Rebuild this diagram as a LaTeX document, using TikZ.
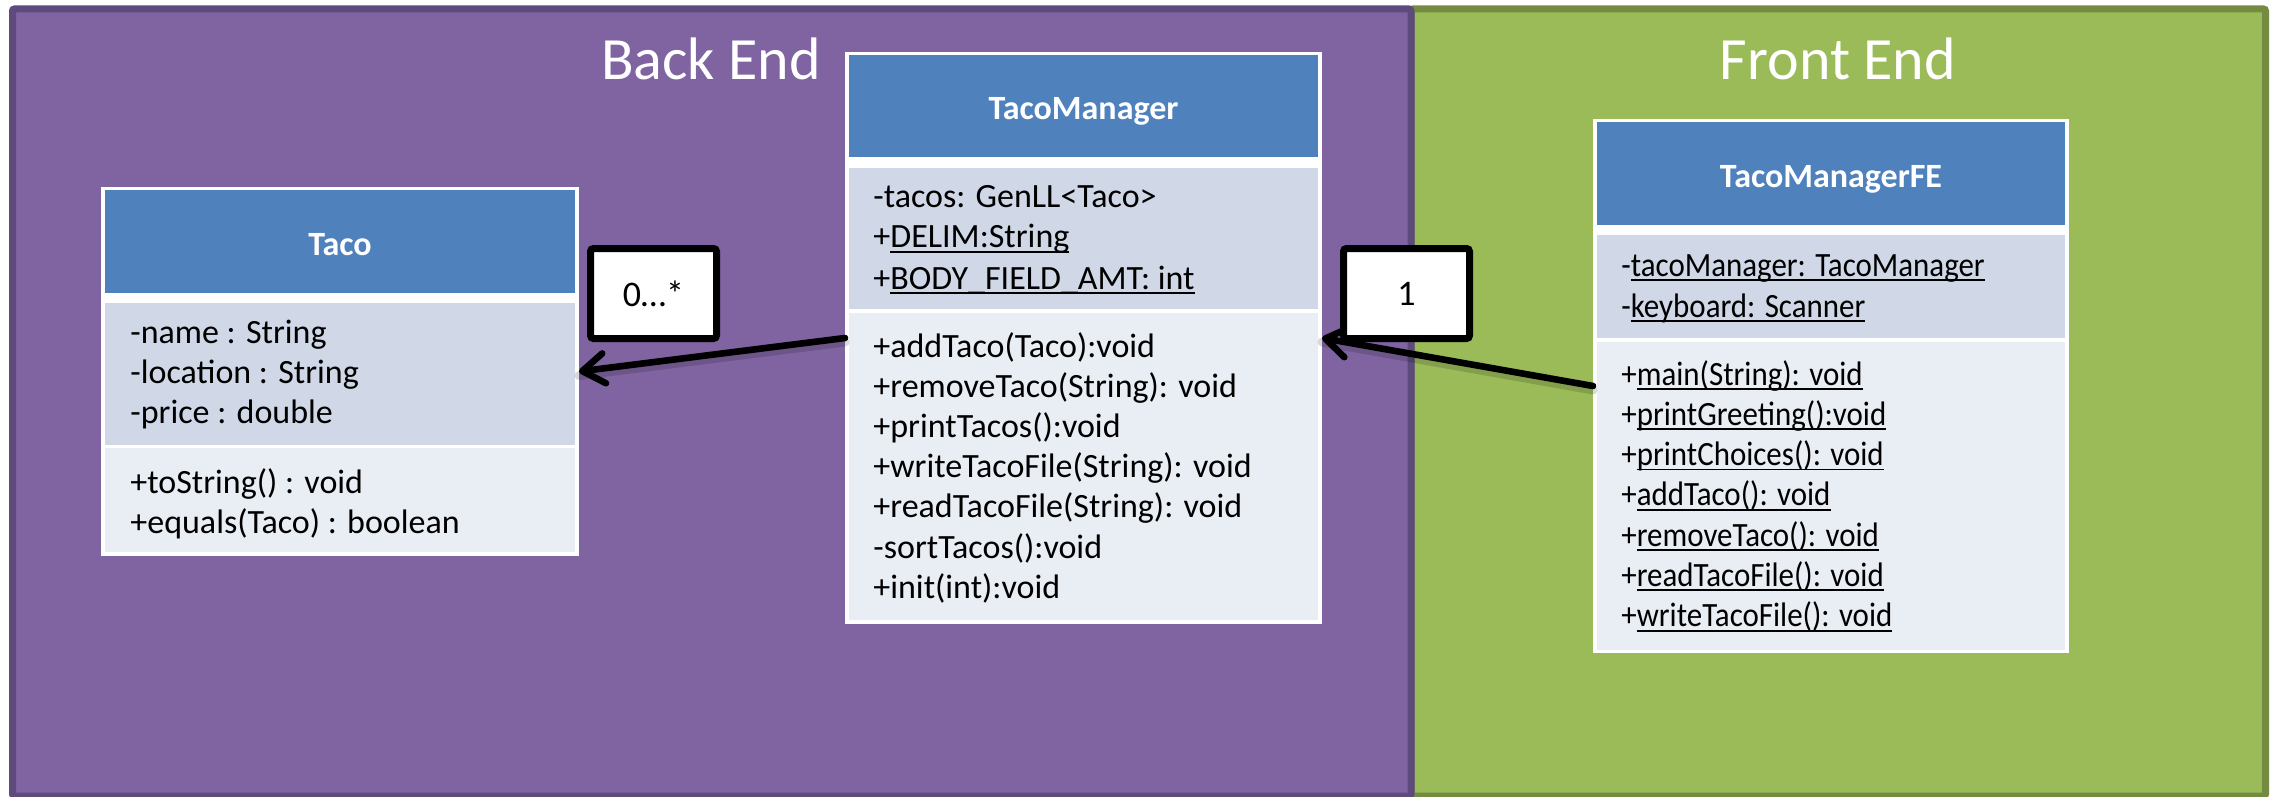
\documentclass[tikz,border=0pt]{standalone}
\usepackage{fontspec}
\setmainfont{Carlito}
\newfontfamily\narrowfont[FakeStretch=0.91]{Carlito}
\usetikzlibrary{arrows.meta}
\definecolor{bepurple}{HTML}{8064A2}
\definecolor{beborder}{HTML}{5F4A7E}
\definecolor{fegreen}{HTML}{9BBB59}
\definecolor{feborder}{HTML}{738C42}
\definecolor{umlblue}{HTML}{4F81BD}
\definecolor{umlattr}{HTML}{D0D8E8}
\definecolor{umlops}{HTML}{E9EDF4}
% static members: a rule just under the baseline
\newsavebox{\staticbox}
\newcommand{\stat}[1]{\sbox{\staticbox}{#1}\rlap{\rule[-2.4pt]{\wd\staticbox}{0.95pt}}\usebox{\staticbox}}
\begin{document}
\begin{tikzpicture}[x=0.5pt,y=-0.5pt,
  panel/.style={draw, line width=3.5pt, inner sep=0pt, outer sep=0pt, rounded corners=1pt},
  title/.style={text=white, inner sep=0pt, anchor=base, font=\fontsize{30pt}{36pt}\selectfont},
  frame/.style={fill=white, inner sep=0pt, outer sep=0pt},
  head/.style={fill=umlblue, text=white, inner sep=0pt, outer sep=0pt,
    font=\fontsize{17pt}{20pt}\selectfont\bfseries, text height=14pt, text depth=0pt},
  attrs/.style={fill=umlattr, inner sep=0pt, outer sep=0pt},
  ops/.style={fill=umlops, inner sep=0pt, outer sep=0pt},
  member/.style={inner sep=0pt, anchor=base west, font=\fontsize{17pt}{20pt}\selectfont},
  femember/.style={member, font=\narrowfont\fontsize{17pt}{20pt}\selectfont},
  mult/.style={draw, fill=white, line width=3.5pt, rounded corners=1.5pt,
    minimum width=63pt, minimum height=45pt, inner sep=0pt,
    font=\fontsize{18pt}{20pt}\selectfont},
  assoc/.style={line width=3.3pt, line cap=round,
    -{Straight Barb[length=11pt, width=15pt, round]}},
  assocshadow/.style={line width=4.5pt, line cap=round, draw=black, opacity=0.15,
    transform canvas={yshift=-2pt}}
]
\useasboundingbox (0,0) rectangle (2277,797);

% the two layers
\node[panel, draw=feborder, fill=fegreen, minimum width=427.25pt, minimum height=393.5pt] (front) at (1838.25,402.5) {};
\node[panel, draw=beborder, fill=bepurple, minimum width=699.25pt, minimum height=393.5pt] (back) at (711.75,402.5) {};
\node[title] (back-title) at (711,80) {Back End};
\node[title] (front-title) at (1838,80) {Front End};

% class Taco
\node[frame, minimum width=239pt, minimum height=184.5pt] (taco) at (340,371.5) {};
\node[head, minimum width=235pt, minimum height=51.5pt] (taco-head) at (340,241.5) {Taco};
\node[attrs, minimum width=235pt, minimum height=71pt] (taco-attrs) at (340,374) {};
\node[ops, minimum width=235pt, minimum height=52pt] (taco-ops) at (340,500) {};
\foreach [count=\i from 0] \t in {{-name : String}, {-location : String}, {-price : double}}
  \node[member] (taco-a\i) at (130,{343+40*\i}) {\t};
\foreach [count=\i from 0] \t in {{+toString() : void}, {+equals(Taco) : boolean}}
  \node[member] (taco-o\i) at (130,{493+40*\i}) {\t};

% class TacoManager
\node[frame, minimum width=238.5pt, minimum height=286pt] (tm) at (1083.5,338) {};
\node[head, minimum width=234.5pt, minimum height=51pt] (tm-head) at (1083.5,106) {TacoManager};
\node[attrs, minimum width=234.5pt, minimum height=70.5pt] (tm-attrs) at (1083.5,238.5) {};
\node[ops, minimum width=234.5pt, minimum height=153.5pt] (tm-ops) at (1083.5,466.5) {};
\foreach [count=\i from 0] \t in {{-tacos: GenLL<Taco>}, {+\stat{DELIM:String}}, {+\stat{BODY\_FIELD\_AMT: int}}}
  \node[member] (tm-a\i) at (873,{207+41*\i}) {\t};
\foreach [count=\i from 0] \t in {{+addTaco(Taco):void}, {+removeTaco(String): void}, {+printTacos():void},
    {+writeTacoFile(String): void}, {+readTacoFile(String): void}, {-sortTacos():void}, {+init(int):void}}
  \node[member] (tm-o\i) at (873,{357+40.2*\i}) {\t};

% class TacoManagerFE
\node[frame, minimum width=238pt, minimum height=267pt] (fe) at (1831,386) {};
\node[head, minimum width=234pt, minimum height=51.5pt] (fe-head) at (1831,173.5) {TacoManagerFE};
\node[attrs, minimum width=234pt, minimum height=51.5pt] (fe-attrs) at (1831,286.5) {};
\node[ops, minimum width=234pt, minimum height=154pt] (fe-ops) at (1831,496) {};
\foreach [count=\i from 0] \t in {{-\stat{tacoManager: TacoManager}}, {-\stat{keyboard: Scanner}}}
  \node[femember] (fe-a\i) at (1621,{276+41*\i}) {\t};
\foreach [count=\i from 0] \t in {{+\stat{main(String): void}}, {+\stat{printGreeting():void}}, {+\stat{printChoices(): void}},
    {+\stat{addTaco(): void}}, {+\stat{removeTaco(): void}}, {+\stat{readTacoFile(): void}}, {+\stat{writeTacoFile(): void}}}
  \node[femember] (fe-o\i) at (1621,{385+40.3*\i}) {\t};

% associations with multiplicities
\draw[assocshadow] (tm.west) -- (taco.east);
\draw[assoc] (tm.west) -- (taco.east);
\node[mult] (mult-many) at (653.5,293.5) {0…*};
\draw[assocshadow] (fe.west) -- (tm.east);
\draw[assoc] (fe.west) -- (tm.east);
\node[mult] (mult-one) at (1406.5,293.5) {1};
\end{tikzpicture}
\end{document}
